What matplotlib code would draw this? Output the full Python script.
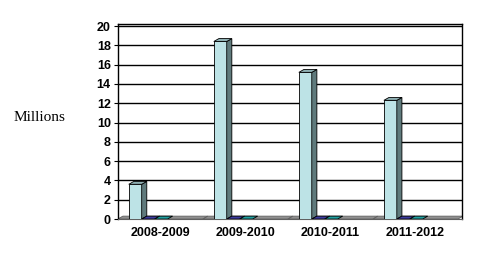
import matplotlib.pyplot as plt
from matplotlib.patches import Polygon

# data
categories = ['2008-2009', '2009-2010', '2010-2011', '2011-2012']
series_main = [3.6, 18.4, 15.2, 12.3]
series_navy = [0, 0, 0, 0]
series_teal = [0, 0, 0, 0]

fig = plt.figure(figsize=(4.97, 2.62), dpi=100)
ax = fig.add_axes([0.237, 0.164, 0.693, 0.744])

w = 0.152
dx, dy = 0.06, 0.3
offsets = [-0.371, -0.219, -0.067]
front = ['#bde3e6', '#2a2a80', '#008080']
side = ['#5f7a7c', '#15154a', '#005050']
top = ['#8fb0b3', '#3c3ca0', '#20a0a0']

for yv in range(2, 21, 2):
    ax.axhline(yv, color='black', lw=1, zorder=0)

# gray floor strip
for i in range(len(categories)):
    ax.add_patch(Polygon([(i - 0.5, 0), (i + 0.5, 0), (i + 0.5 + dx, dy), (i - 0.5 + dx, dy)],
                         closed=True, facecolor='#909090', edgecolor='#606060', lw=0.6, zorder=1))

for s, vals in enumerate([series_main, series_navy, series_teal]):
    for i, v in enumerate(vals):
        x0 = i + offsets[s]
        x1 = x0 + w
        if v > 0:
            ax.bar(x0, v, width=w, align='edge', color=front[s], edgecolor='black', lw=0.6, zorder=3)
            ax.add_patch(Polygon([(x1, 0), (x1 + dx, dy), (x1 + dx, v + dy), (x1, v)],
                                 closed=True, facecolor=side[s], edgecolor='black', lw=0.6, zorder=3))
        ax.add_patch(Polygon([(x0, v), (x1, v), (x1 + dx, v + dy), (x0 + dx, v + dy)],
                             closed=True, facecolor=top[s], edgecolor='black', lw=0.6, zorder=4))

ax.set_xlim(-0.5, 3.55)
ax.set_ylim(0, 20.2)
ax.set_yticks(range(0, 21, 2))
ax.set_xticks(range(len(categories)))
ax.set_xticklabels(categories)
ax.tick_params(axis='x', length=0, pad=6)
ax.tick_params(axis='y', length=3, width=0.8, pad=2)
for lab in ax.get_xticklabels() + ax.get_yticklabels():
    lab.set_fontfamily('Liberation Sans')
    lab.set_fontweight('bold')
    lab.set_fontsize(9)

for sp in ['top', 'right', 'left']:
    ax.spines[sp].set_color('black')
    ax.spines[sp].set_linewidth(1)
ax.spines['bottom'].set_color('#606060')

fig.text(0.08, 0.55, 'Millions', family='Liberation Serif', fontsize=11, ha='center', va='center')

fig.savefig('out.png', dpi=100)
